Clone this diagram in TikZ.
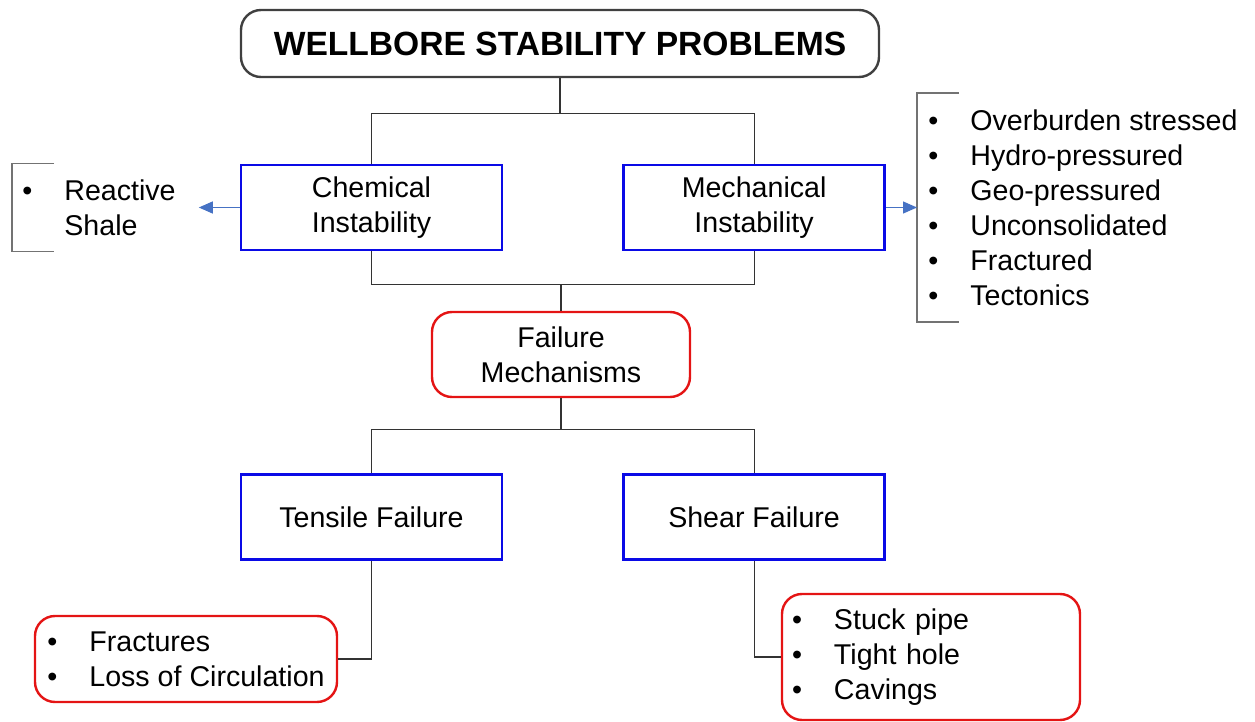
\documentclass[tikz,border=0pt]{standalone}
\usepackage{fontspec}
\setmainfont{Liberation Sans}
\usetikzlibrary{arrows.meta}
\usetikzlibrary{positioning}

\definecolor{boxblue}{RGB}{10,10,230}
\definecolor{boxred}{RGB}{228,20,20}
\definecolor{arrowblue}{RGB}{70,114,196}

\tikzset{
  headbox/.style={draw=black!75, line width=1.2pt, rounded corners=10pt,
    minimum width=319pt, minimum height=33.5pt,
    font=\fontsize{16.8}{19}\selectfont\bfseries},
  typebox/.style={draw=boxblue, line width=1.3pt,
    minimum width=130.5pt, minimum height=42.5pt, align=center,
    font=\fontsize{14.3}{17.5}\selectfont},
  redbox/.style={draw=boxred, line width=1.2pt, rounded corners=10pt,
    font=\fontsize{14.3}{17.5}\selectfont},
  listbox/.style={align=left, font=\fontsize{14.3}{17.5}\selectfont},
  link/.style={draw=black!80, line width=0.6pt},
  bracket/.style={draw=black!55, line width=0.7pt},
  arrow/.style={draw=arrowblue, line width=0.6pt,
    -{Triangle[length=7pt,width=6pt]}},
}
\newcommand{\itm}{\makebox[21pt][l]{\textbullet}}

\begin{document}
\begin{tikzpicture}[x=0.5pt,y=-0.5pt]
  \useasboundingbox (0,0) rectangle (1255,722);

  % main title
  \node[headbox] (title) at (560,43.5) {WELLBORE STABILITY PROBLEMS};

  \node[typebox] (chem) at (371.5,207.5) {Chemical\\Instability};
  \node[typebox] (mech) [right=59.5pt of chem] {Mechanical\\Instability};

  \node[redbox, align=center, minimum width=129pt, minimum height=42.5pt]
    (fail) at (561,354.5) {Failure\\Mechanisms};

  \node[typebox] (tens) at (371.5,517) {Tensile Failure};
  \node[typebox] (shear) [right=59.5pt of tens] {Shear Failure};

  % lists of causes and symptoms
  \node[listbox, anchor=west, text width=83pt, inner xsep=5pt,
    minimum height=43.5pt] (shale) at (12,207.5)
    {\itm Reactive\\\hspace*{21pt}Shale};
  \node[listbox, anchor=west, inner xsep=5.5pt, minimum height=114pt]
    (mechlist) at (917,207.5)
    {\itm Overburden stressed\\\itm Hydro-pressured\\\itm Geo-pressured\\
     \itm Unconsolidated\\\itm Fractured\\\itm Tectonics};
  \node[redbox, align=left, minimum width=151pt,
    minimum height=43pt] (frac) at (186,659)
    {\itm Fractures\\\itm Loss of Circulation};
  \node[redbox, align=left, text width=139pt, inner xsep=5pt,
    minimum height=63pt] (stuck) at (931,657)
    {\itm Stuck pipe\\\itm Tight hole\\\itm Cavings};

  % brackets
  \draw[bracket] ([xshift=21pt]shale.north west) -- (shale.north west)
    -- (shale.south west) -- ([xshift=21pt]shale.south west);
  \draw[bracket] ([xshift=21pt]mechlist.north west) -- (mechlist.north west)
    -- (mechlist.south west) -- ([xshift=21pt]mechlist.south west);

  % tree connectors
  \draw[link] (title.south) -- ++(0,35) -| (chem.north);
  \draw[link] (title.south) ++(0,35) -| (mech.north);
  \draw[link] (chem.south) -- ++(0,33) -| (fail.north);
  \draw[link] (mech.south) -- ++(0,33) -| (fail.north);
  \draw[link] (fail.south) -- ++(0,31) -| (tens.north);
  \draw[link] (fail.south) ++(0,31) -| (shear.north);
  \draw[link] (tens.south) |- (frac.east);
  \draw[link] (shear.south) |- (stuck.west);

  \draw[arrow] (chem.west) -- (shale.east);
  \draw[arrow] (mech.east) -- (mechlist.west);
\end{tikzpicture}
\end{document}
